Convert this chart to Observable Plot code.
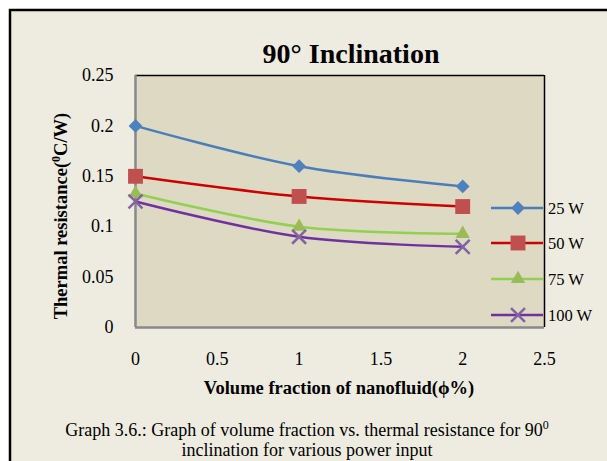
<!DOCTYPE html>
<html><head><meta charset="utf-8">
<script src="https://cdn.jsdelivr.net/npm/d3@7"></script>
<script src="https://cdn.jsdelivr.net/npm/@observablehq/plot@0.6"></script>
<style>html,body{margin:0;padding:0;background:#fff;} svg{display:block}</style>
</head><body><div id="chart"></div>
<script>
const volumeFraction = [0, 1, 2];
const series = ["25 W", "50 W", "75 W", "100 W"];
const r25 = [0.2, 0.16, 0.14];
const r50 = [0.15, 0.13, 0.12];
const r75 = [0.133, 0.1, 0.093];
const r100 = [0.125, 0.09, 0.08];
const xTicks = [0, 0.5, 1, 1.5, 2, 2.5];
const yTicks = [0, 0.05, 0.1, 0.15, 0.2, 0.25];
const lineColors = ["#4A7EBB", "#CC0000", "#92D050", "#7030A0"];
const markerColors = ["#4F81BD", "#C0504D", "#9BBB59", "#8064A2"];
const symbols = ["diamond2", "square", "triangle", "times"];
const markerR = [6.2, 8.4, 5.3, 6.4];

const values = [r25, r50, r75, r100];
const rows = series.flatMap((s, i) => volumeFraction.map((x, j) => ({series: s, x, y: values[i][j]})));

const W = 607, H = 461;
const serif = "'Liberation Serif', 'Times New Roman', serif";

const dotMarks = series.map((s, i) => {
  const d = rows.filter(r => r.series === s);
  return symbols[i] === "times"
    ? Plot.dot(d, {x: "x", y: "y", symbol: () => "times", r: markerR[i], stroke: markerColors[i], strokeWidth: 2.5})
    : Plot.dot(d, {x: "x", y: "y", symbol: () => symbols[i], r: markerR[i], fill: markerColors[i], stroke: null});
});

const chart = Plot.plot({
  width: W, height: H,
  marginLeft: 135, marginRight: 63, marginTop: 75, marginBottom: 134,
  style: {fontFamily: serif, fontSize: "18px", background: "transparent", color: "#000"},
  x: {domain: [0, 2.5]},
  y: {domain: [0, 0.25]},
  symbol: {domain: symbols, range: symbols},
  marks: [
    Plot.frame({fill: "#DDD9C3", stroke: null}),
    Plot.ruleY([0.25], {stroke: "#000", strokeWidth: 1.5}),
    Plot.ruleX([2.5], {stroke: "#000", strokeWidth: 1.5}),
    Plot.ruleX([0], {stroke: "#898989", strokeWidth: 2.5}),
    Plot.ruleY([0], {stroke: "#898989", strokeWidth: 2.5}),
    Plot.axisY({ticks: yTicks, tickSize: 0, tickPadding: 22, tickFormat: d => String(d), label: null, fontSize: 18}),
    Plot.axisX({ticks: xTicks, tickSize: 0, tickPadding: 25, tickFormat: d => String(d), label: null, fontSize: 18}),
    Plot.line(rows, {x: "x", y: "y", z: "series", stroke: d => lineColors[series.indexOf(d.series)], strokeWidth: 2.5, curve: "catmull-rom"}),
    ...dotMarks
  ]
});

document.getElementById("chart").appendChild(chart);
const svg = d3.select(chart);

// outer background frame
svg.insert("rect", ":first-child").attr("x", 10).attr("y", 10).attr("width", 640).attr("height", 480)
  .attr("fill", "#EEECE1").attr("stroke", "#000").attr("stroke-width", 2.5);
svg.insert("rect", ":first-child").attr("x", 0).attr("y", 0).attr("width", W).attr("height", H).attr("fill", "#fff");

// title
svg.append("text").attr("x", 351).attr("y", 63).attr("text-anchor", "middle")
  .attr("font-family", serif).attr("font-weight", "bold").attr("font-size", 28).text("90° Inclination");

// y label
const yl = svg.append("text").attr("transform", "translate(67,216) rotate(-90)").attr("text-anchor", "middle")
  .attr("font-family", serif).attr("font-weight", "bold").attr("font-size", 18.5);
yl.append("tspan").text("Thermal resistance(");
yl.append("tspan").attr("font-size", 12).attr("dy", -7).text("0");
yl.append("tspan").attr("dy", 7).text("C/W)");

// x label
svg.append("text").attr("x", 339).attr("y", 394).attr("text-anchor", "middle")
  .attr("font-family", serif).attr("font-weight", "bold").attr("font-size", 18.5).text("Volume fraction of nanofluid(ϕ%)");

// caption
const c1 = svg.append("text").attr("x", 307).attr("y", 436).attr("text-anchor", "middle")
  .attr("font-family", serif).attr("font-size", 18);
c1.append("tspan").text("Graph 3.6.: Graph of volume fraction vs. thermal resistance for 90");
c1.append("tspan").attr("font-size", 12).attr("dy", -7).text("0");
svg.append("text").attr("x", 307).attr("y", 456).attr("text-anchor", "middle")
  .attr("font-family", serif).attr("font-size", 18).text("inclination for various power input");

// legend
const legendY = [208, 243, 279, 315];
const d3Sym = {diamond2: d3.symbolDiamond2, square: d3.symbolSquare, triangle: d3.symbolTriangle, times: d3.symbolTimes};
series.forEach((s, i) => {
  const g = svg.append("g");
  g.append("line").attr("x1", 491).attr("x2", 543).attr("y1", legendY[i]).attr("y2", legendY[i])
    .attr("stroke", lineColors[i]).attr("stroke-width", 2.5);
  const path = d3.symbol(d3Sym[symbols[i]], Math.PI * markerR[i] * markerR[i])();
  const p = g.append("path").attr("d", path).attr("transform", `translate(518,${legendY[i]})`);
  if (symbols[i] === "times") p.attr("fill", "none").attr("stroke", markerColors[i]).attr("stroke-width", 2.5);
  else p.attr("fill", markerColors[i]);
  g.append("text").attr("x", 548).attr("y", legendY[i]).attr("dy", "0.35em").attr("text-anchor", "start")
    .attr("font-family", serif).attr("font-size", 16.5).text(s);
});
</script>
</body></html>
